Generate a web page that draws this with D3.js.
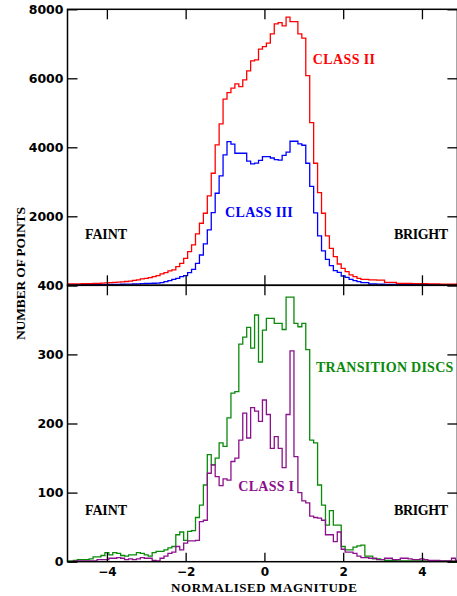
<!DOCTYPE html>
<html><head><meta charset="utf-8">
<script src="https://cdn.jsdelivr.net/npm/d3@7"></script>
<style>html,body{margin:0;padding:0;background:#fff;}svg{display:block;}</style>
</head><body>
<script>
// Histogram bins: centres from -5.0 to 5.0 in steps of 0.1 (width 0.1)
const binStart = -5.0, binStep = 0.1, binCount = 101;
const classII = [40,
  40,40,42,45,45,50,52,58,62,68,
  75,82,90,100,110,122,140,160,185,203,
  220,250,280,329,367,416,445,541,638,783,
  977,1170,1489,1798,2088,2590,3248,4069,4680,5394,
  5586,5713,5838,5760,5954,6215,6505,6534,6844,6920,
  7018,7288,7578,7616,7520,7772,7645,7645,7288,7164,
  6079,4716,3538,2686,2088,1430,1073,830,618,493,
  396,300,251,203,174,174,155,155,150,150,
  87,87,85,58,58,58,55,50,50,45,
  45,40,40,38,35,35,32,30,30,28];
const classIII = [15,
  15,15,15,18,18,18,20,20,22,22,
  25,25,28,30,32,35,38,42,48,52,
  58,60,65,77,106,135,174,203,251,280,
  367,464,638,879,1198,1604,2107,2668,3170,3779,
  4166,4090,3828,3828,3828,3600,3518,3540,3620,3731,
  3731,3690,3640,3630,3765,3860,4175,4175,4099,4060,
  3538,2870,2100,1430,995,754,570,425,377,270,
  232,174,135,106,77,77,38,38,32,30,
  28,26,25,24,22,22,20,20,18,18,
  16,16,15,15,14,14,13,13,12,12];
const transitionDiscs = [1,
  1,2,3,3,3,4,7,7,9,13,
  10,13,12,9,8,10,10,13,12,10,
  8,13,15,15,17,20,22,39,43,31,
  44,45,64,82,111,155,140,150,172,167,
  208,244,246,315,325,339,309,357,289,335,
  352,352,345,345,336,383,383,345,340,345,
  307,176,172,111,82,53,74,53,53,22,
  17,17,21,23,24,8,8,4,4,3,
  2,2,2,1,1,1,1,1,1,1,
  1,1,1,1,1,1,1,1,1,1];
const classI = [0,
  0,1,1,1,1,1,1,3,3,3,
  5,5,6,5,3,4,3,4,6,5,
  5,2,1,5,8,12,14,22,17,27,
  30,30,31,58,60,128,140,123,110,120,
  118,145,150,176,215,179,223,218,203,234,
  213,164,181,164,136,213,305,152,100,88,
  85,66,64,63,60,39,39,29,43,18,
  14,14,12,8,6,6,5,5,3,3,
  5,5,3,3,5,5,4,3,3,4,
  3,2,2,2,1,1,1,5,2,2];

const xTicks = [-4,-2,0,2,4];
const topTicks = [0,2000,4000,6000,8000];
const topTickLabels = [2000,4000,6000,8000];
const botTicks = [0,100,200,300,400];

const W = 457, H = 596;
const L = 67.5, R = 457.4;
const T1 = 9.3, MID = 285.3, B2 = 561.7;

const svg = d3.select("body").append("svg").attr("width", W).attr("height", H);

const x = d3.scaleLinear().domain([-5, 4.9]).range([L, R]);
const yTop = d3.scaleLinear().domain([0, 8000]).range([MID, T1]);
const yBot = d3.scaleLinear().domain([0, 400]).range([B2, MID]);

const centers = d3.range(binCount).map(i => binStart + i * binStep);

function stepPoints(vals) {
  const pts = vals.map((v, i) => [centers[i] - binStep / 2, v]);
  pts.push([centers[vals.length - 1] + binStep / 2, vals[vals.length - 1]]);
  return pts;
}

const defs = svg.append("defs");
defs.append("clipPath").attr("id", "clipTop").append("rect")
  .attr("x", L).attr("y", T1).attr("width", R - L).attr("height", MID - T1);
defs.append("clipPath").attr("id", "clipBot").append("rect")
  .attr("x", L).attr("y", MID).attr("width", R - L).attr("height", B2 - MID);

function drawHist(vals, yScale, color, clip) {
  const line = d3.line().x(d => x(d[0])).y(d => yScale(d[1])).curve(d3.curveStepAfter);
  svg.append("path").attr("d", line(stepPoints(vals)))
    .attr("fill", "none").attr("stroke", color).attr("stroke-width", 1.3)
    .attr("clip-path", `url(#${clip})`);
}

const cRed = "#ff0000", cBlue = "#0000ff", cGreen = "#0a8a0a", cPurple = "#8b108b";

drawHist(classIII, yTop, cBlue, "clipTop");
drawHist(classII, yTop, cRed, "clipTop");
drawHist(transitionDiscs, yBot, cGreen, "clipBot");
drawHist(classI, yBot, cPurple, "clipBot");

// axes
const tickFont = "'DejaVu Sans', sans-serif";
function styleAxis(g, labels, size) {
  g.select(".domain").remove();
  g.selectAll(".tick line").attr("stroke", "#000").attr("stroke-width", 1.3);
  g.selectAll(".tick text").attr("font-family", tickFont).attr("font-weight", "bold")
    .attr("font-size", size || 12.5).attr("fill", "#000");
  if (!labels) g.selectAll(".tick text").remove();
}

// top panel
svg.append("g").attr("transform", `translate(${L},0)`)
  .call(d3.axisLeft(yTop).tickValues(topTicks).tickSize(-10).tickPadding(4)
    .tickFormat(d => topTickLabels.includes(d) ? d : ""))
  .call(g => styleAxis(g, true));
svg.append("g").attr("transform", `translate(${R},0)`)
  .call(d3.axisRight(yTop).tickValues(topTicks).tickSize(-10))
  .call(g => styleAxis(g, false));
svg.append("g").attr("transform", `translate(0,${T1})`)
  .call(d3.axisTop(x).tickValues(xTicks).tickSize(-10))
  .call(g => styleAxis(g, false));
svg.append("g").attr("transform", `translate(0,${MID})`)
  .call(d3.axisBottom(x).tickValues(xTicks).tickSize(-10))
  .call(g => styleAxis(g, false));

// bottom panel
svg.append("g").attr("transform", `translate(${L},0)`)
  .call(d3.axisLeft(yBot).tickValues(botTicks).tickSize(-10).tickPadding(4))
  .call(g => styleAxis(g, true));
svg.append("g").attr("transform", `translate(${R},0)`)
  .call(d3.axisRight(yBot).tickValues(botTicks).tickSize(-10))
  .call(g => styleAxis(g, false));
svg.append("g").attr("transform", `translate(0,${MID})`)
  .call(d3.axisTop(x).tickValues(xTicks).tickSize(-10))
  .call(g => styleAxis(g, false));
svg.append("g").attr("transform", `translate(0,${B2})`)
  .call(d3.axisBottom(x).tickValues(xTicks).tickSize(-9).tickPadding(6))
  .call(g => styleAxis(g, true, 12));

// frames
const frame = svg.append("g").attr("stroke", "#000").attr("fill", "none");
frame.append("rect").attr("x", L).attr("y", T1).attr("width", R - L).attr("height", MID - T1).attr("stroke-width", 1.5);
frame.append("rect").attr("x", L).attr("y", MID).attr("width", R - L).attr("height", B2 - MID).attr("stroke-width", 1.5);

// labels
const serif = "'Liberation Serif', 'Times New Roman', serif";
function label(txt, px, py, color, len, size) {
  svg.append("text").attr("x", px).attr("y", py).text(txt)
    .attr("font-family", serif).attr("font-weight", "bold")
    .attr("font-size", size || 14).attr("fill", color)
    .attr("textLength", len).attr("lengthAdjust", "spacing");
}
label("FAINT", 85, 238.5, "#000", 42);
label("BRIGHT", 394, 238.5, "#000", 54);
label("FAINT", 85, 515, "#000", 42);
label("BRIGHT", 394, 515, "#000", 54);
label("CLASS II", 312.7, 64, cRed, 62.3);
label("CLASS III", 225, 216.5, cBlue, 67.7);
label("TRANSITION DISCS", 316, 372, cGreen, 137.3);
label("CLASS I", 238.3, 490.5, cPurple, 55.7);

svg.append("text").attr("x", 264).attr("y", 591.5).attr("text-anchor", "middle")
  .text("NORMALISED MAGNITUDE").attr("font-family", serif).attr("font-weight", "bold")
  .attr("font-size", 13).attr("fill", "#000").attr("textLength", 186).attr("lengthAdjust", "spacing");
svg.append("text").attr("transform", "translate(25,273.5) rotate(-90)").attr("text-anchor", "middle")
  .text("NUMBER OF POINTS").attr("font-family", serif).attr("font-weight", "bold")
  .attr("font-size", 13.5).attr("fill", "#000").attr("textLength", 133).attr("lengthAdjust", "spacing");
</script>
</body></html>
